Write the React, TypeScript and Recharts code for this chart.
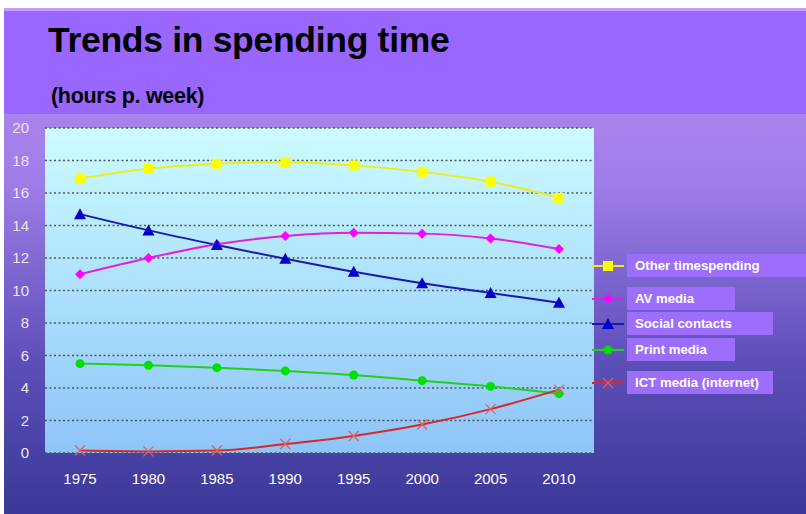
import React from "react";
import { LineChart, Line, XAxis, YAxis, CartesianGrid } from "recharts";

const years = ["1975", "1980", "1985", "1990", "1995", "2000", "2005", "2010"];
const otherTime = [16.9, 17.5, 17.8, 17.9, 17.7, 17.3, 16.7, 15.7];
const avMedia = [11.0, 12.0, 12.85, 13.35, 13.55, 13.5, 13.2, 12.55];
const socialContacts = [14.7, 13.7, 12.8, 11.95, 11.15, 10.45, 9.85, 9.25];
const printMedia = [5.5, 5.4, 5.25, 5.05, 4.8, 4.45, 4.1, 3.65];
const ictMedia = [0.15, 0.1, 0.15, 0.55, 1.05, 1.75, 2.7, 3.9];
const yTicks = [0, 2, 4, 6, 8, 10, 12, 14, 16, 18, 20];

const data = years.map((year, i) => ({
  year,
  other: otherTime[i],
  av: avMedia[i],
  social: socialContacts[i],
  print: printMedia[i],
  ict: ictMedia[i],
}));

type Shape = "square" | "diamond" | "triangle" | "circle" | "cross";

const series: Array<{ key: string; name: string; color: string; marker: Shape; markColor: string }> = [
  { key: "other", name: "Other timespending", color: "#eeee10", marker: "square", markColor: "#ffff00" },
  { key: "av", name: "AV media", color: "#e020e0", marker: "diamond", markColor: "#ff00ff" },
  { key: "social", name: "Social contacts", color: "#1a1ab0", marker: "triangle", markColor: "#0000cc" },
  { key: "print", name: "Print media", color: "#22d022", marker: "circle", markColor: "#00e000" },
  { key: "ict", name: "ICT media (internet)", color: "#d82828", marker: "cross", markColor: "#e06060" },
];

function Marker({ cx, cy, shape, color }: { cx: number; cy: number; shape: Shape; color: string }) {
  if (cx == null || cy == null) return null;
  switch (shape) {
    case "square":
      return <rect x={cx - 5} y={cy - 5} width={10} height={10} fill={color} />;
    case "diamond":
      return <polygon points={`${cx},${cy - 5} ${cx + 5},${cy} ${cx},${cy + 5} ${cx - 5},${cy}`} fill={color} />;
    case "triangle":
      return <polygon points={`${cx},${cy - 6} ${cx + 6},${cy + 5} ${cx - 6},${cy + 5}`} fill={color} />;
    case "circle":
      return <circle cx={cx} cy={cy} r={4.5} fill={color} />;
    default:
      return (
        <g stroke={color} strokeWidth={1.3}>
          <line x1={cx - 5} y1={cy - 5} x2={cx + 5} y2={cy + 5} />
          <line x1={cx - 5} y1={cy + 5} x2={cx + 5} y2={cy - 5} />
        </g>
      );
  }
}

// legend rows (chart-local coordinates)
const legendBoxes = [
  { top: 246, width: 179 },
  { top: 279, width: 108 },
  { top: 304, width: 146 },
  { top: 330, width: 108 },
  { top: 363, width: 146 },
];

function ChartLegend() {
  return (
    <>
      {series.map((s, i) => {
        const box = legendBoxes[i];
        return (
          <div key={s.key}>
            <svg style={{ position: "absolute", left: 588, top: box.top + 1 }} width={34} height={22}>
              <line x1={0} y1={11} x2={32} y2={11} stroke={s.color} strokeWidth={2} />
              <Marker cx={16} cy={11} shape={s.marker} color={s.markColor} />
            </svg>
            <div
              style={{
                position: "absolute",
                left: 623,
                top: box.top,
                width: box.width,
                height: 23,
                background: "#9d6dfc",
                color: "#fff",
                fontWeight: "bold",
                fontSize: 13.2,
                lineHeight: "23px",
                paddingLeft: 8,
                boxSizing: "border-box",
                whiteSpace: "nowrap",
              }}
            >
              {s.name}
            </div>
          </div>
        );
      })}
    </>
  );
}

export default function App() {
  return (
    <div
      style={{
        position: "absolute",
        left: 4,
        top: 8,
        width: 802,
        height: 506,
        fontFamily: "'Liberation Sans', Arial, sans-serif",
        background: "linear-gradient(to bottom, #bb8ef2 0%, #9e7ce8 35%, #5d4fb8 70%, #3a3898 100%)",
        overflow: "hidden",
      }}
    >
      <div style={{ position: "absolute", left: 0, top: 0, width: 802, height: 106, background: "#9966ff", borderTop: "3px solid #c49cfa", boxSizing: "border-box" }} />
      <div style={{ position: "absolute", left: 44, top: 12, fontSize: 35.5, fontWeight: "bold", color: "#000", letterSpacing: -0.3 }}>
        Trends in spending time
      </div>
      <div style={{ position: "absolute", left: 47, top: 76, fontSize: 21.5, fontWeight: "bold", color: "#000", letterSpacing: -0.3 }}>
        (hours p. week)
      </div>
      <div style={{ position: "absolute", left: 0, top: 0 }}>
        <LineChart width={802} height={506} data={data} margin={{ top: 120, right: 212, bottom: 31, left: 0 }}>
          <defs>
            <linearGradient id="plotBg" x1="0" y1="0" x2="0" y2="1">
              <stop offset="0%" stopColor="#ccfcff" />
              <stop offset="100%" stopColor="#8ec4f8" />
            </linearGradient>
          </defs>
          <CartesianGrid
            vertical={false}
            fill="url(#plotBg)"
            fillOpacity={1}
            stroke="#4c5866"
            strokeWidth={1.4}
            strokeDasharray="2 2.5"
          />
          <XAxis
            dataKey="year"
            axisLine={false}
            tickLine={false}
            padding={{ left: 35, right: 35 }}
            height={30}
            interval={0}
            tick={{ fill: "#ffffff", fontSize: 15 }}
            tickMargin={14}
          />
          <YAxis
            domain={[0, 20]}
            ticks={yTicks}
            interval={0}
            width={41}
            axisLine={false}
            tickLine={false}
            tick={{ fill: "#ece4ff", fontSize: 15 }}
            tickMargin={10}
          />
          {series.map((s) => (
            <Line
              key={s.key}
              dataKey={s.key}
              name={s.name}
              type="monotone"
              stroke={s.color}
              strokeWidth={2}
              isAnimationActive={false}
              dot={(p: any) => <Marker key={`${s.key}-${p.index}`} cx={p.cx} cy={p.cy} shape={s.marker} color={s.markColor} />}
              activeDot={false}
            />
          ))}
        </LineChart>
      </div>
      <ChartLegend />
    </div>
  );
}
